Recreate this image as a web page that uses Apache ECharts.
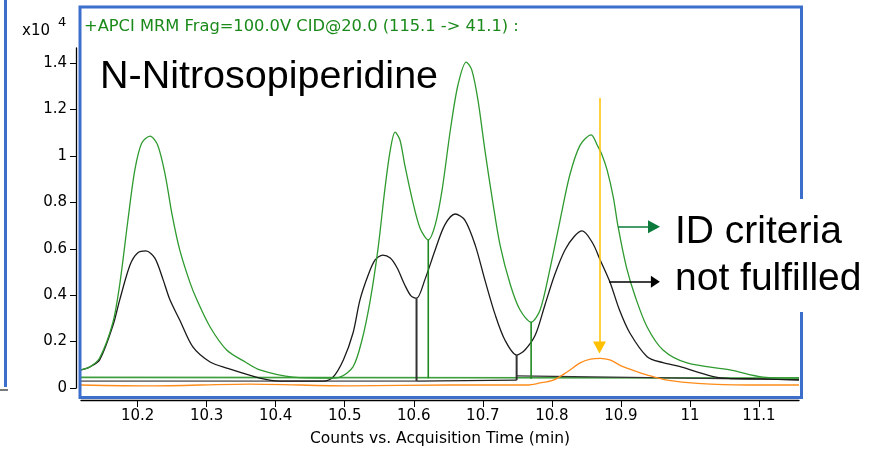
<!DOCTYPE html>
<html>
<head>
<meta charset="utf-8">
<script src="https://cdn.jsdelivr.net/npm/echarts@6/dist/echarts.min.js"></script>
<style>
  html, body { margin: 0; padding: 0; background: #fff; }
  #main { width: 882px; height: 453px; }
</style>
</head>
<body>
<div id="main"></div>
<script>
// retention times (min) and counts (x10^4)
const greenT = [10.118,10.131,10.145,10.164,10.174,10.186,10.196,10.206,10.218,10.229,10.240,10.250,10.261,10.276,10.286,10.305,10.329,10.356,10.377,10.425,10.479,10.493,10.512,10.525,10.537,10.548,10.558,10.566,10.573,10.580,10.587,10.598,10.609,10.621,10.631,10.641,10.653,10.664,10.676,10.684,10.693,10.703,10.714,10.725,10.740,10.754,10.770,10.783,10.797,10.812,10.826,10.841,10.857,10.866,10.872,10.880,10.889,10.896,10.908,10.921,10.938,10.961,10.996,11.058,11.106,11.158];
const greenI = [0.078,0.091,0.129,0.280,0.444,0.724,0.940,1.056,1.086,1.047,0.918,0.746,0.595,0.453,0.379,0.263,0.164,0.112,0.078,0.047,0.043,0.047,0.091,0.207,0.379,0.595,0.853,1.026,1.103,1.069,0.961,0.810,0.690,0.638,0.703,0.853,1.112,1.306,1.405,1.371,1.241,1.026,0.810,0.616,0.444,0.336,0.284,0.336,0.509,0.724,0.918,1.047,1.091,1.045,1.010,0.940,0.823,0.694,0.521,0.392,0.263,0.164,0.108,0.078,0.047,0.043];

const blackT = [10.118,10.131,10.145,10.164,10.174,10.189,10.200,10.212,10.225,10.237,10.247,10.261,10.280,10.305,10.329,10.377,10.406,10.469,10.483,10.498,10.512,10.522,10.534,10.544,10.555,10.566,10.576,10.587,10.596,10.604,10.616,10.631,10.645,10.660,10.674,10.689,10.703,10.718,10.732,10.749,10.761,10.776,10.790,10.804,10.819,10.833,10.844,10.859,10.870,10.884,10.898,10.913,10.938,10.961,10.986,11.010,11.044,11.102,11.158];
const blackI = [0.078,0.091,0.121,0.267,0.379,0.530,0.582,0.591,0.560,0.466,0.379,0.293,0.177,0.112,0.086,0.043,0.030,0.030,0.047,0.121,0.237,0.379,0.487,0.552,0.573,0.560,0.517,0.444,0.397,0.387,0.466,0.595,0.703,0.750,0.724,0.616,0.466,0.315,0.207,0.142,0.164,0.228,0.358,0.487,0.595,0.655,0.677,0.625,0.552,0.458,0.336,0.237,0.135,0.109,0.092,0.070,0.044,0.039,0.034];

const orangeT = [10.118,10.218,10.363,10.508,10.653,10.740,10.764,10.783,10.802,10.822,10.841,10.856,10.870,10.884,10.903,10.924,10.943,10.967,11.011,11.083,11.158];
const orangeI = [0.013,0.009,0.017,0.009,0.013,0.013,0.013,0.022,0.034,0.069,0.108,0.124,0.128,0.121,0.092,0.070,0.052,0.034,0.020,0.013,0.013];

// integration baselines and drop lines: [time, top, bottom]
const greenBase = [[10.118, 0.046], [11.158, 0.043]];
const grayBase = [[10.118, 0.030], [10.604, 0.030]];
const blackBase1 = [[10.604, 0.030], [10.749, 0.034]];
const blackBase2 = [[10.749, 0.052], [11.158, 0.036]];
const blackDrops = [[10.604, 0.387, 0.030], [10.749, 0.142, 0.034]];
const greenDrops = [[10.621, 0.638, 0.042], [10.770, 0.284, 0.040]];

// annotation arrows [from, to]
const greenArrow = [[10.896, 0.695], [10.948, 0.695]];
const blackArrow = [[10.883, 0.458], [10.950, 0.458]];
const yellowArrow = [[10.869, 1.25], [10.869, 0.175]];

const xTicks = [10.2, 10.3, 10.4, 10.5, 10.6, 10.7, 10.8, 10.9, 11, 11.1];
const yTicks = [0, 0.2, 0.4, 0.6, 0.8, 1, 1.2, 1.4];

const X0 = 10.118, X1 = 11.158, Y1 = 1.4655;
const FONT = 'DejaVu Sans';
const BLUE = '#3b6fcb';

const zip = (t, v) => t.map((x, i) => [x, v[i]]);

const lineSeries = (name, data, color, width, extra) => Object.assign({
  name: name,
  type: 'line',
  xAxisIndex: 0,
  yAxisIndex: 0,
  data: data,
  showSymbol: false,
  symbol: 'none',
  lineStyle: { color: color, width: width },
  itemStyle: { color: color },
  silent: true,
  animation: false
}, extra || {});

const arrow = (pts, color, size) => ({
  silent: true,
  animation: false,
  symbol: ['none', 'triangle'],
  symbolSize: size,
  label: { show: false },
  lineStyle: { color: color, width: 1.5, type: 'solid' },
  itemStyle: { color: color },
  data: [[{ coord: pts[0] }, { coord: pts[1] }]]
});

let series = [
  lineSeries('greenBase', greenBase, '#3f9f3f', 1.6),
  lineSeries('grayBase', grayBase, '#7a7a7a', 1.8),
  lineSeries('blackBase1', blackBase1, '#222', 1.3),
  lineSeries('blackBase2', blackBase2, '#333', 1.2),
  lineSeries('orange', zip(orangeT, orangeI), '#ff8c1a', 1.3, {
    smooth: 0.3,
    markLine: arrow(yellowArrow, '#ffc000', [13, 12])
  }),
  lineSeries('black', zip(blackT, blackI), '#1a1a1a', 1.3, {
    smooth: 0.3,
    markLine: arrow(blackArrow, '#000', [12, 9])
  }),
  lineSeries('green', zip(greenT, greenI), '#2f9a2f', 1.3, {
    smooth: 0.3,
    markLine: arrow(greenArrow, '#0b7a3a', [13, 12])
  })
];
blackDrops.forEach((d, i) => series.push(lineSeries('bdrop' + i, [[d[0], d[1]], [d[0], d[2]]], '#333', 2)));
greenDrops.forEach((d, i) => series.push(lineSeries('gdrop' + i, [[d[0], d[1]], [d[0], d[2]]], '#1f8a1f', 1.6)));

const chart = echarts.init(document.getElementById('main'), null, { renderer: 'canvas' });

const option = {
  backgroundColor: '#fff',
  animation: false,
  grid: [
    { left: 81, top: 48, width: 718, height: 340 },
    { left: 81, top: 399, width: 718, height: 1 }
  ],
  xAxis: [
    { gridIndex: 0, type: 'value', min: X0, max: X1, show: false },
    {
      gridIndex: 1, type: 'value', min: X0, max: X1,
      axisLine: { lineStyle: { color: '#000', width: 1.3 } },
      axisTick: { length: 7, customValues: xTicks, lineStyle: { color: '#000' } },
      axisLabel: { customValues: xTicks, margin: 9, fontSize: 15, fontFamily: FONT, color: '#000' },
      splitLine: { show: false },
      name: 'Counts vs. Acquisition Time (min)',
      nameLocation: 'middle',
      nameGap: 31,
      nameTextStyle: { fontSize: 15.5, fontFamily: FONT, color: '#000' }
    }
  ],
  yAxis: [
    {
      gridIndex: 0, type: 'value', min: 0, max: Y1, offset: 5,
      axisLine: { show: true, lineStyle: { color: '#000', width: 1.3 } },
      axisTick: { show: true, length: 6, customValues: yTicks, lineStyle: { color: '#000' } },
      axisLabel: { customValues: yTicks, margin: 9, fontSize: 15, fontFamily: FONT, color: '#000' },
      splitLine: { show: false }
    },
    { gridIndex: 1, type: 'value', min: 0, max: 1, show: false }
  ],
  series: series,
  graphic: [
    { type: 'line', z: 100, shape: { x1: 5.5, y1: 0, x2: 5.5, y2: 387 }, style: { stroke: BLUE, lineWidth: 3 } },
    { type: 'line', z: 100, shape: { x1: 0, y1: 390, x2: 8, y2: 390 }, style: { stroke: '#222', lineWidth: 1.2 } },
    { type: 'rect', z: 100, shape: { x: 80, y: 7, width: 721.5, height: 390.5 }, style: { fill: 'none', stroke: BLUE, lineWidth: 3 } },
    { type: 'rect', z: 101, shape: { x: 665, y: 199, width: 217, height: 113 }, style: { fill: '#fff' } },
    { type: 'text', z: 102, x: 22, y: 31, style: { text: 'x10', font: '15px "DejaVu Sans"', fill: '#000', verticalAlign: 'middle' } },
    { type: 'text', z: 102, x: 58, y: 23, style: { text: '4', font: '13px "DejaVu Sans"', fill: '#000', verticalAlign: 'middle' } },
    { type: 'text', z: 102, x: 84, y: 26.5, style: { text: '+APCI MRM Frag=100.0V CID@20.0 (115.1 -> 41.1) :', font: '16.3px "DejaVu Sans"', fill: '#1b8a1b', verticalAlign: 'middle' } },
    { type: 'text', z: 102, x: 100, y: 77, style: { text: 'N-Nitrosopiperidine', font: '39.5px "Liberation Sans"', fill: '#000', verticalAlign: 'middle' } },
    { type: 'text', z: 102, x: 675, y: 232, style: { text: 'ID criteria', font: '39px "Liberation Sans"', fill: '#000', verticalAlign: 'middle' } },
    { type: 'text', z: 102, x: 675, y: 279, style: { text: 'not fulfilled', font: '39px "Liberation Sans"', fill: '#000', verticalAlign: 'middle' } }
  ]
};

chart.setOption(option);
</script>
</body>
</html>
